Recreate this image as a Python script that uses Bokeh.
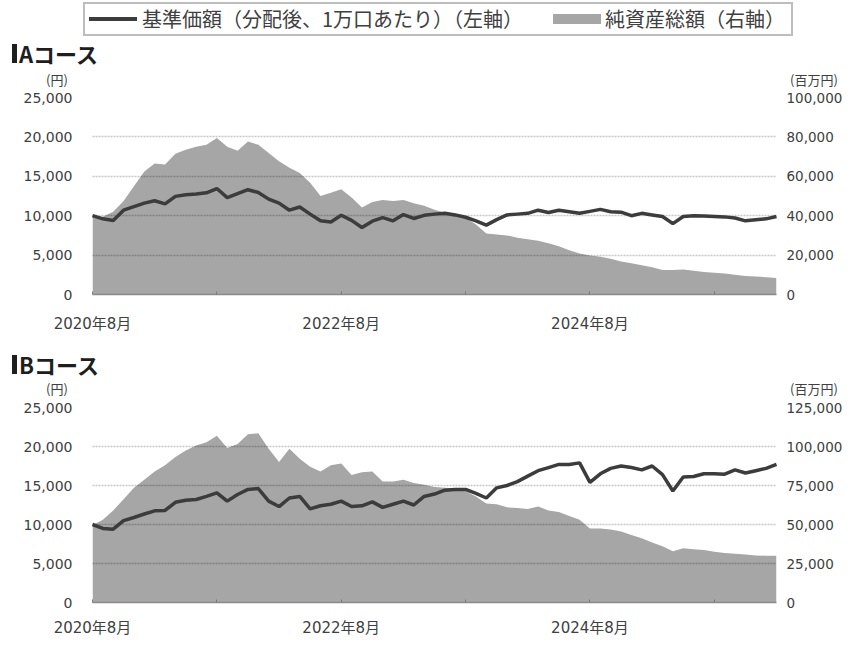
from bokeh.plotting import figure
from bokeh.models import Range1d, LinearAxis, NumeralTickFormatter, FixedTicker, Div
from bokeh.layouts import column
from bokeh.embed import file_html
from bokeh.resources import INLINE

# ---- data (monthly, 2020年8月 = month 0) ----
months = list(range(67))
x_ticks = [0, 12, 24, 36, 48, 60]
x_tick_labels = {0: "2020年8月", 12: "", 24: "2022年8月", 36: "", 48: "2024年8月", 60: ""}

nav_ticks = [0, 5000, 10000, 15000, 20000, 25000]
assets_ticks_a = [0, 20000, 40000, 60000, 80000, 100000]
assets_ticks_b = [0, 25000, 50000, 75000, 100000, 125000]

legend_nav = "基準価額（分配後、1万口あたり）（左軸）"
legend_assets = "純資産総額（右軸）"
title_a = "Aコース"
title_b = "Bコース"
unit_left = "(円)"
unit_right = "(百万円)"

nav_a = [10000, 9600, 9400, 10700, 11150, 11600, 11900, 11500, 12450, 12650,
         12750, 12900, 13450, 12300, 12800, 13300, 12950, 12100, 11600, 10700,
         11100, 10200, 9350, 9200, 10050, 9400, 8500, 9300, 9750, 9350,
         10150, 9650, 10050, 10200, 10300, 10100, 9800, 9350, 8800, 9500,
         10100, 10200, 10300, 10700, 10400, 10700, 10500, 10300, 10550, 10800,
         10500, 10450, 10000, 10300, 10100, 9900, 9000, 9900, 10000, 9950,
         9900, 9850, 9700, 9350, 9500, 9600, 9900]

assets_a = [40000, 39500, 42000, 47500, 55000, 62500, 66500, 66000, 71500, 73500,
            75000, 76000, 79400, 75000, 73000, 77700, 76000, 71800, 67600, 64300,
            61700, 56700, 50000, 51700, 53400, 49200, 44100, 47000, 48000, 47500,
            48000, 46300, 45000, 43000, 41500, 40000, 39000, 35500, 31000, 30500,
            30000, 28800, 28000, 27300, 26000, 24500, 22500, 20800, 19800, 19200,
            18200, 16800, 15800, 14800, 13800, 12400, 12500, 12700, 12000, 11400,
            11000, 10600, 10000, 9400, 9100, 8800, 8400]

nav_b = [10000, 9500, 9400, 10500, 10900, 11350, 11750, 11800, 12850, 13100,
         13200, 13600, 14050, 13000, 13850, 14500, 14600, 13000, 12300, 13400,
         13600, 12000, 12400, 12600, 13000, 12300, 12400, 12900, 12200, 12600,
         13000, 12500, 13600, 13900, 14400, 14500, 14500, 14000, 13400, 14700,
         15000, 15500, 16200, 16900, 17300, 17700, 17700, 17900, 15400, 16500,
         17200, 17500, 17300, 17000, 17500, 16400, 14300, 16100, 16150, 16500,
         16500, 16450, 17000, 16600, 16900, 17200, 17700]

assets_b = [49500, 53000, 59000, 66200, 73500, 78700, 83900, 88000, 93300, 97500,
            100600, 102700, 106900, 99000, 101600, 107900, 108500, 98500, 90100, 98500,
            92200, 87000, 83900, 88000, 89100, 81800, 83500, 83900, 77500, 77600,
            78700, 76600, 75500, 74000, 73500, 73000, 71500, 68000, 63500, 63000,
            61000, 60500, 60000, 61500, 59000, 58000, 55500, 53000, 47500, 47500,
            46800, 45500, 43200, 41200, 38500, 36000, 32800, 34800, 34200, 33600,
            32500, 31700, 31200, 30700, 30200, 30000, 30000]

AREA = "#a6a6a6"
LINE = "#3c3c3c"
TXT = "#404040"
NUM_FONT = "DejaVu Sans, Noto Sans CJK JP"
JP = "'Noto Sans CJK JP', sans-serif"
W = 845


def ab(left, top, extra):
    return f"position:absolute;left:{left}px;top:{top}px;{extra}"


def header_html(height, title, title_top, unit_top, with_legend):
    parts = [f'<div style="position:relative;width:{W}px;height:{height}px;'
             f'font-family:{JP};color:{TXT};overflow:hidden;">']
    if with_legend:
        parts.append(f'<div style="{ab(83, 2, "width:710px;height:34px;box-sizing:border-box;border:2px solid #bdbdbd;")}"></div>')
        parts.append(f'<div style="{ab(89, 17, f"width:48px;height:4px;background:{LINE};")}"></div>')
        parts.append(f'<span style="{ab(142, 9, "font-size:20px;line-height:20px;white-space:nowrap;")}">{legend_nav}</span>')
        parts.append(f'<div style="{ab(553, 14, f"width:48px;height:10px;background:{AREA};")}"></div>')
        parts.append(f'<span style="{ab(605, 9, "font-size:20px;line-height:20px;white-space:nowrap;")}">{legend_assets}</span>')
    parts.append(f'<div style="{ab(12, title_top + 2, "width:5px;height:19px;background:#1e1e1e;")}"></div>')
    parts.append(f'<span style="{ab(19, title_top, "font-size:22px;line-height:22px;font-weight:bold;color:#1e1e1e;white-space:nowrap;")}">{title}</span>')
    parts.append(f'<span style="{ab(37, unit_top, "width:40px;text-align:center;font-size:13px;line-height:14px;white-space:nowrap;")}">{unit_left}</span>')
    parts.append(f'<span style="{ab(784, unit_top, "width:60px;text-align:center;font-size:13px;line-height:14px;white-space:nowrap;")}">{unit_right}</span>')
    parts.append('</div>')
    return "".join(parts)


def make_panel(nav, assets, assets_ticks, height, bottom, x_standoff):
    p = figure(width=W, height=height, output_backend="svg", toolbar_location=None,
               x_range=Range1d(0, 66), y_range=Range1d(0, 25000),
               min_border_left=92, min_border_right=69,
               min_border_top=8, min_border_bottom=bottom,
               background_fill_color="white", border_fill_color="white")
    p.outline_line_color = None
    p.extra_y_ranges = {"assets": Range1d(0, assets_ticks[-1])}

    p.varea(x=months, y1=0, y2=assets, fill_color=AREA, y_range_name="assets")
    p.line(months, nav, line_color=LINE, line_width=3.5, level="overlay")

    # left axis
    p.yaxis.ticker = FixedTicker(ticks=nav_ticks)
    p.yaxis.formatter = NumeralTickFormatter(format="0,0")
    p.yaxis.axis_line_color = None
    p.yaxis.major_tick_line_color = None
    p.yaxis.major_tick_in = 0
    p.yaxis.major_tick_out = 0
    p.yaxis.minor_tick_line_color = None
    p.yaxis.major_label_standoff = 20
    p.yaxis.major_label_text_font = NUM_FONT
    p.yaxis.major_label_text_font_size = "14px"
    p.yaxis.major_label_text_color = TXT

    # right axis
    ra = LinearAxis(y_range_name="assets", ticker=FixedTicker(ticks=assets_ticks),
                    formatter=NumeralTickFormatter(format="0,0"))
    ra.axis_line_color = None
    ra.major_tick_line_color = None
    ra.major_tick_in = 0
    ra.major_tick_out = 0
    ra.minor_tick_line_color = None
    ra.major_label_standoff = 10
    ra.major_label_text_font = NUM_FONT
    ra.major_label_text_font_size = "13.5px"
    ra.major_label_text_color = TXT
    p.add_layout(ra, "right")

    # bottom axis
    p.xaxis.ticker = FixedTicker(ticks=x_ticks)
    p.xaxis.major_label_overrides = x_tick_labels
    p.xaxis.axis_line_color = "#8a8a8a"
    p.xaxis.axis_line_width = 1.5
    p.xaxis.major_tick_line_color = "#7a7a7a"
    p.xaxis.major_tick_in = 3
    p.xaxis.major_tick_out = 0
    p.xaxis.minor_tick_line_color = None
    p.xaxis.major_label_standoff = x_standoff
    p.xaxis.major_label_text_font = NUM_FONT
    p.xaxis.major_label_text_font_size = "15px"
    p.xaxis.major_label_text_color = TXT

    # grid
    p.xgrid.grid_line_color = None
    p.ygrid.ticker = FixedTicker(ticks=nav_ticks)
    p.ygrid.grid_line_color = "black"
    p.ygrid.grid_line_alpha = 0.22
    p.ygrid.grid_line_width = 1.5
    p.ygrid.grid_line_dash = "2 1"
    p.ygrid.level = "guide"
    return p


ha = Div(text=header_html(89, title_a, 42, 73, True), width=W, height=89, margin=0)
pa = make_panel(nav_a, assets_a, assets_ticks_a, height=247, bottom=42, x_standoff=20)
hb = Div(text=header_html(63, title_b, 17, 46, False), width=W, height=63, margin=0)
pb = make_panel(nav_b, assets_b, assets_ticks_b, height=240, bottom=35, x_standoff=16)

layout = column(ha, pa, hb, pb, spacing=0)
open("out.html", "w").write(file_html(layout, INLINE))
